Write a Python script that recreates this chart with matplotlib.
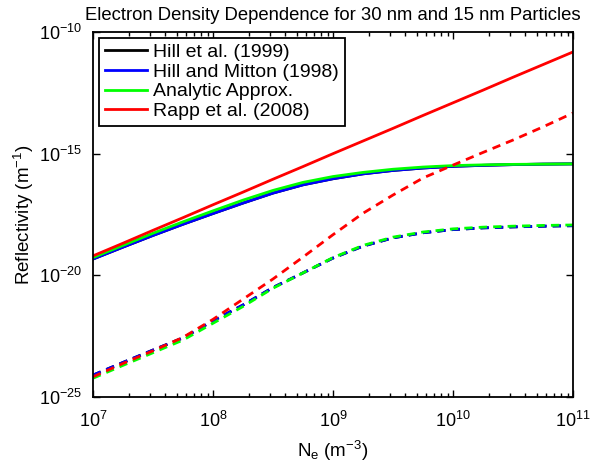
import numpy as np
import matplotlib
matplotlib.use('Agg')
import matplotlib.pyplot as plt
from matplotlib.ticker import FixedLocator, NullLocator

plt.rcParams['font.family'] = ['Liberation Sans', 'DejaVu Sans']
plt.rcParams['mathtext.fontset'] = 'custom'
plt.rcParams['mathtext.rm'] = 'Liberation Sans'
plt.rcParams['mathtext.it'] = 'Liberation Sans'

# electron density, log10(m^-3)
logNe = [7, 7.25, 7.5, 7.75, 8, 8.25, 8.5, 8.75, 9, 9.25, 9.5, 9.75, 10, 10.25, 10.5, 10.75, 11]

# 30 nm particles, log10 reflectivity (solid)
hill99_30 = [-19.33, -18.84, -18.36, -17.9, -17.46, -17.03, -16.62, -16.28, -16.03, -15.83, -15.69, -15.59, -15.52, -15.48, -15.45, -15.43, -15.42]
hillMitton_30 = [-19.33, -18.84, -18.36, -17.9, -17.46, -17.03, -16.62, -16.28, -16.03, -15.83, -15.69, -15.59, -15.52, -15.48, -15.45, -15.43, -15.42]
analytic_30 = [-19.27, -18.77, -18.27, -17.8, -17.35, -16.91, -16.51, -16.18, -15.94, -15.77, -15.64, -15.55, -15.49, -15.46, -15.44, -15.43, -15.42]
rapp_30 = [-19.2, -18.68, -18.15, -17.63, -17.1, -16.58, -16.05, -15.53, -15.0, -14.48, -13.96, -13.43, -12.91, -12.39, -11.86, -11.34, -10.82]

# 15 nm particles, log10 reflectivity (dashed)
hill99_15 = [-24.1, -23.58, -23.07, -22.57, -21.87, -21.22, -20.5, -19.9, -19.29, -18.8, -18.46, -18.25, -18.12, -18.05, -18.01, -17.98, -17.96]
hillMitton_15 = [-24.1, -23.58, -23.07, -22.57, -21.87, -21.22, -20.5, -19.9, -19.29, -18.8, -18.46, -18.25, -18.12, -18.05, -18.01, -17.98, -17.96]
analytic_15 = [-24.23, -23.7, -23.18, -22.66, -21.97, -21.28, -20.53, -19.9, -19.27, -18.77, -18.43, -18.22, -18.09, -18.02, -17.98, -17.95, -17.93]
rapp_15 = [-24.17, -23.62, -23.1, -22.55, -21.81, -20.98, -20.15, -19.25, -18.33, -17.45, -16.7, -16.0, -15.47, -14.95, -14.44, -13.9, -13.33]

labels = ['Hill et al. (1999)', 'Hill and Mitton (1998)', 'Analytic Approx.', 'Rapp et al. (2008)']
colors = ['k', 'b', '#00ff00', 'r']

Ne = 10.0 ** np.array(logNe)
solid = [hill99_30, hillMitton_30, analytic_30, rapp_30]
dashed = [hill99_15, hillMitton_15, analytic_15, rapp_15]

fig = plt.figure(figsize=(5.9, 4.7), dpi=100)
ax = fig.add_axes([93 / 590, 1 - 397 / 470, 480 / 590, 365 / 470])

# solid = 30 nm, dashed = 15 nm
for vals, c, lab in zip(solid, colors, labels):
    ax.plot(Ne, 10.0 ** np.array(vals), color=c, lw=2, label=lab)
for vals, c in zip(dashed, colors):
    ax.plot(Ne, 10.0 ** np.array(vals), color=c, lw=2, linestyle=(0, (3, 2.2)))

ax.set_xscale('log')
ax.set_yscale('log')
ax.set_xlim(1e7, 1e11)
ax.set_ylim(1e-25, 1e-10)
ax.set_xticks([1e7, 1e8, 1e9, 1e10, 1e11])
ax.set_yticks([1e-25, 1e-20, 1e-15, 1e-10])
ax.yaxis.set_minor_locator(NullLocator())
minor_x = [m * 10.0 ** d for d in range(7, 11) for m in range(2, 10)]
ax.xaxis.set_minor_locator(FixedLocator(minor_x))
ax.tick_params(which='major', direction='in', top=True, right=True, labelsize=13,
               width=1.0, length=5)
ax.tick_params(which='minor', direction='in', top=True, right=True, width=1.0, length=3)
ax.tick_params(axis='x', which='major', pad=10)
ax.tick_params(axis='y', which='major', pad=8)
for s in ax.spines.values():
    s.set_linewidth(1.3)

ax.set_xlabel('N$_e$ (m$^{-3}$)', fontsize=13.5, labelpad=6)
ax.set_ylabel('Reflectivity (m$^{-1}$)', fontsize=13.5, labelpad=2)
ax.set_title('Electron Density Dependence for 30 nm and 15 nm Particles', fontsize=13.3, pad=9)

leg = ax.legend(loc='upper left', fontsize=14, fancybox=False, framealpha=1,
                edgecolor='k', handlelength=2.2, handletextpad=0.3,
                labelspacing=0.1, borderaxespad=0.3, borderpad=0.3)
leg.get_frame().set_linewidth(1.3)

fig.savefig('out.png', dpi=100)
